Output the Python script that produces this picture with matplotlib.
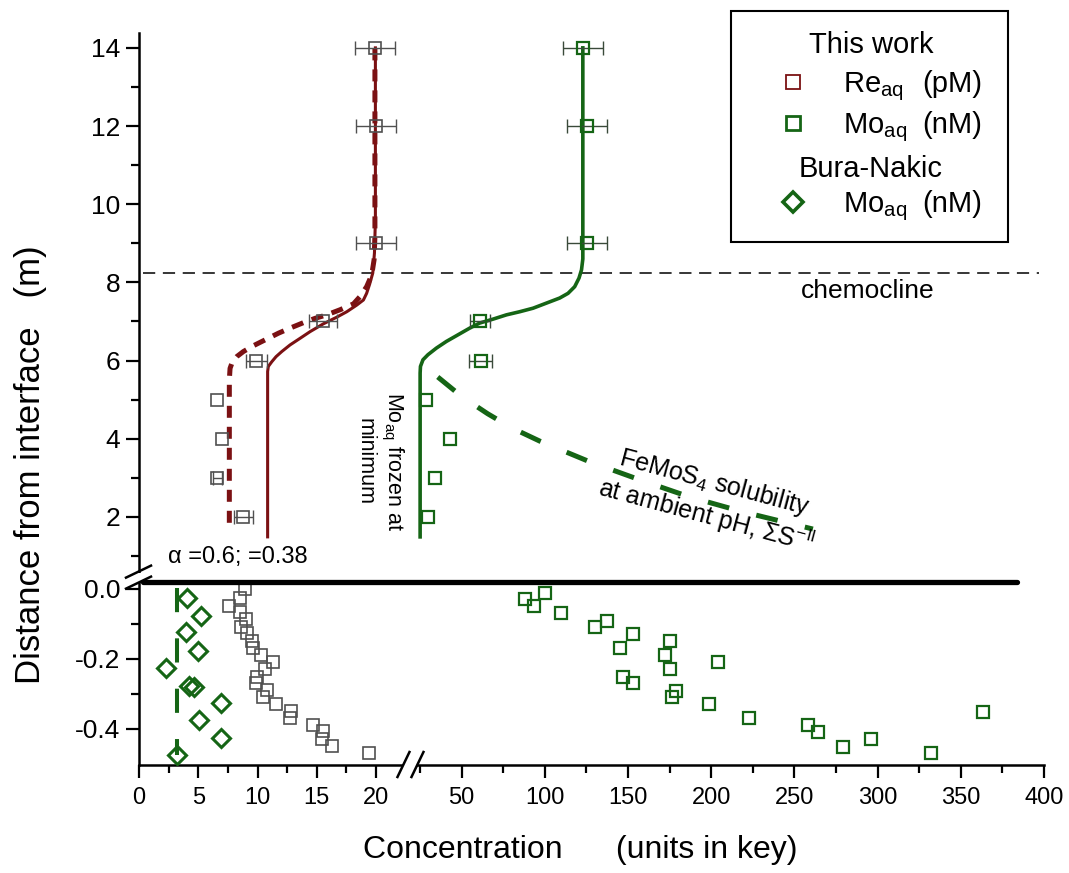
import numpy as np
import matplotlib
matplotlib.use('Agg')
import matplotlib.pyplot as plt
from matplotlib.lines import Line2D
from matplotlib.patches import Rectangle

plt.rcParams['font.family'] = ['Liberation Sans', 'DejaVu Sans']
plt.rcParams['mathtext.fontset'] = 'custom'
plt.rcParams['mathtext.rm'] = 'Liberation Sans'
plt.rcParams['mathtext.it'] = 'Liberation Sans:italic'

W, H = 1069, 873
RE_C = '#7b1113'
MO_C = '#156515'
GREY = '#505050'

# ---- water column (upper panel), depth in m ----
depth_up = [14, 12, 9, 7, 6, 5, 4, 3, 2]
re_up = [19.9, 20.0, 20.0, 15.5, 9.9, 6.6, 7.0, 6.6, 8.8]          # pM
re_up_err = [1.7, 1.7, 1.7, 1.2, 0.9, 0.0, 0.0, 0.4, 0.8]
mo_up = [122.8, 125.2, 125.2, 60.8, 61.5, 28.8, 42.8, 34.2, 29.8]  # nM
mo_up_err = [12, 12, 12, 6, 7, 0, 0, 0, 0]

# model curves
re_solid_x = [10.85, 10.85, 10.91, 11.2, 11.56, 12.04, 12.74, 13.59, 14.43, 15.55, 16.68,
              17.53, 18.37, 18.93, 19.2, 19.45, 19.72, 19.86, 19.94, 19.94]
re_solid_y = [1.49, 5.72, 5.85, 5.97, 6.10, 6.23, 6.40, 6.57, 6.74, 6.94, 7.11,
              7.25, 7.42, 7.55, 7.72, 7.95, 8.24, 8.75, 9.6, 14.0]
re_dash_x = [7.62, 7.62, 7.68, 7.88, 8.24, 8.80, 9.65, 10.77, 11.76, 12.74, 13.87, 14.85,
             15.84, 16.96, 18.09, 18.65, 19.2, 19.63, 19.83, 19.9, 19.9]
re_dash_y = [1.85, 5.5, 5.80, 5.97, 6.10, 6.23, 6.38, 6.55, 6.70, 6.83, 6.97, 7.08,
             7.17, 7.30, 7.45, 7.64, 7.89, 8.19, 8.58, 9.2, 14.0]
mo_solid_x = [25, 25, 25.2, 26.7, 29.7, 34.8, 40.8, 47.8, 54.8, 60.8, 68.8, 76.9, 84.9,
              92.9, 100.9, 108.9, 113.9, 117.9, 120.5, 122.0, 122.8, 122.8]
mo_solid_y = [1.49, 5.68, 5.85, 6.02, 6.15, 6.32, 6.49, 6.66, 6.83, 6.96, 7.06, 7.17, 7.25,
              7.34, 7.47, 7.60, 7.72, 7.89, 8.11, 8.32, 8.6, 14.0]
femos_x = [35.6, 50.0, 65.6, 80.0, 96.9, 127.0, 157.0, 187.1, 219.0, 261.1]
femos_y = [5.58, 5.08, 4.64, 4.28, 3.94, 3.41, 2.95, 2.51, 2.13, 1.69]
chemocline = 8.24

# ---- sediment (lower panel), depth in m ----
re_low_x = [8.95, 8.52, 7.59, 8.52, 9.03, 8.61, 9.14, 9.56, 9.65, 10.27, 11.28, 10.63,
            9.93, 9.87, 10.83, 10.44, 11.56, 12.80, 12.74, 14.65, 15.50, 15.42, 16.32, 19.44]
re_low_y = [0.0, -0.027, -0.049, -0.067, -0.087, -0.108, -0.127, -0.149, -0.168, -0.189,
            -0.208, -0.229, -0.251, -0.268, -0.289, -0.308, -0.329, -0.348, -0.368,
            -0.389, -0.407, -0.429, -0.448, -0.468]
mo_low_x = [87.9, 93.3, 100.3, 109.5, 130.4, 137.6, 153.0, 145.0, 175.1, 172.1, 175.1, 204.1,
            147.0, 153.0, 179.1, 176.1, 198.7, 222.8, 258.2, 264.3, 278.9, 295.8, 332.0, 363.1]
mo_low_y = [-0.029, -0.049, -0.011, -0.068, -0.108, -0.091, -0.129, -0.168, -0.149, -0.189,
            -0.229, -0.209, -0.251, -0.269, -0.291, -0.309, -0.329, -0.369, -0.389, -0.409,
            -0.451, -0.429, -0.469, -0.351]
bn_x = [4.05, 5.2, 4.0, 5.0, 2.3, 4.2, 4.6, 6.9, 5.1, 6.9, 3.2]
bn_y = [-0.026, -0.077, -0.122, -0.176, -0.227, -0.277, -0.279, -0.327, -0.374, -0.425, -0.474]
bn_line_x = [3.2, 3.2]
bn_line_y = [0.003, -0.474]

# ---- broken axes as piecewise linear scales (pixel-like units) ----
XD = [-1e4, 0, 22, 25, 400, 1e5]
XP = [-1e4 * 11.85, 0, 260.7, 281, 904.6, 904.6 + (1e5 - 400) * 1.663]
YD = [-1e4, -0.503, 0.03, 0.52, 14.38, 1e4]
YP = [(-1e4 + 0.503) * 350, 0, 186.55, 190.16, 731.8, 731.8 + (1e4 - 14.38) * 39.08]

def xf(v): return np.interp(v, XD, XP)
def xi(v): return np.interp(v, XP, XD)
def yf(v): return np.interp(v, YD, YP)
def yi(v): return np.interp(v, YP, YD)

fig = plt.figure(figsize=(W / 100, H / 100), dpi=100)
ax = fig.add_axes([139 / W, 108 / H, 905 / W, 732 / H])
ax.set_xscale('function', functions=(xf, xi))
ax.set_yscale('function', functions=(yf, yi))
ax.set_xlim(0, 400)
ax.set_ylim(-0.503, 14.38)

# curves
ax.plot(re_solid_x, re_solid_y, color=RE_C, lw=2.2, zorder=3, solid_joinstyle='round')
ax.plot(re_dash_x, re_dash_y, color=RE_C, lw=3.6, dashes=(2.4, 1.8), zorder=3)
ax.plot(mo_solid_x, mo_solid_y, color=MO_C, lw=2.6, zorder=3, solid_joinstyle='round')
ax.plot(femos_x, femos_y, color=MO_C, lw=3.6, dashes=(4.4, 5.6), zorder=3)
ax.plot(bn_line_x, bn_line_y, color=MO_C, lw=2.9, dashes=(6, 6.5), zorder=3)
ax.axhline(chemocline, xmin=0.004, xmax=0.995, color='black', lw=1.1, ls=(0, (8, 5)), zorder=2)
ax.plot([0.3, 384], [0.02, 0.02], color='black', lw=3.8, solid_capstyle='round', zorder=6)

# upper data with error bars
re_up_a = np.array(re_up); mo_up_a = np.array(mo_up); d_a = np.array(depth_up)
m = np.array(re_up_err) > 0
ax.errorbar(re_up_a[m], d_a[m], xerr=np.array(re_up_err)[m], fmt='none', ecolor=GREY,
            elinewidth=1.0, capsize=4.7, capthick=1.0, zorder=4)
m = np.array(mo_up_err) > 0
ax.errorbar(mo_up_a[m], d_a[m], xerr=np.array(mo_up_err)[m], fmt='none', ecolor='#3a4a3a',
            elinewidth=1.0, capsize=4.7, capthick=1.0, zorder=4)
ax.plot(re_up, depth_up, 's', ms=8.5, mfc='none', mec=GREY, mew=1.2, zorder=5)
ax.plot(mo_up, depth_up, 's', ms=8.5, mfc='none', mec=MO_C, mew=1.6, zorder=5)

# lower data
ax.plot(re_low_x, re_low_y, 's', ms=8.5, mfc='none', mec=GREY, mew=1.2, zorder=5)
ax.plot(mo_low_x, mo_low_y, 's', ms=9, mfc='none', mec=MO_C, mew=1.6, zorder=5)
ax.plot(bn_x, bn_y, 'D', ms=9.5, mfc='none', mec=MO_C, mew=2.2, zorder=5)

# axes styling
for s in ['top', 'right']:
    ax.spines[s].set_visible(False)
for s in ['left', 'bottom']:
    ax.spines[s].set_linewidth(1.8)
xt = [0, 5, 10, 15, 20, 50, 100, 150, 200, 250, 300, 350, 400]
ax.set_xticks(xt)
ax.set_xticklabels([str(v) for v in xt], fontsize=17)
ax.set_xticks([2.5, 7.5, 12.5, 17.5, 25, 75, 125, 175, 225, 275, 325, 375], minor=True)
yt = [-0.4, -0.2, 0.0, 2, 4, 6, 8, 10, 12, 14]
ax.set_yticks(yt)
ax.set_yticklabels(['-0.4', '-0.2', '0.0', '2', '4', '6', '8', '10', '12', '14'], fontsize=19)
ax.set_yticks([-0.3, -0.1, 1, 3, 5, 7, 9, 11, 13], minor=True)
ax.tick_params(which='major', direction='out', length=9.5, width=1.6, pad=4)
ax.tick_params(which='minor', direction='out', length=6, width=1.6)
ax.tick_params(axis='x', which='major', pad=6)

fig.canvas.draw()

def pix(px, py):
    # image pixel (top-left origin) -> figure fraction
    return px / W, 1 - py / H

def disp2pix(pt):
    return pt[0], H - pt[1]

# x axis break
bx, by = disp2pix(ax.transData.transform((23.5, -0.503)))
fig.add_artist(Rectangle(pix(bx - 7, by + 4), 14 / W, 8 / H, transform=fig.transFigure,
                         fc='white', ec='none', zorder=10))
for dx in (-6.5, 7.5):
    x0, y0 = pix(bx + dx - 6, by + 12)
    x1, y1 = pix(bx + dx + 6, by - 13)
    fig.add_artist(Line2D([x0, x1], [y0, y1], color='black', lw=1.8, transform=fig.transFigure, zorder=11))

# y axis break
lx, ly = disp2pix(ax.transData.transform((0, 0.27)))
fig.add_artist(Rectangle(pix(lx - 3, ly + 5), 6 / W, 9 / H, transform=fig.transFigure,
                         fc='white', ec='none', zorder=10))
for dy in (-5, 6):
    x0, y0 = pix(lx - 13, ly + dy + 6)
    x1, y1 = pix(lx + 12, ly + dy - 6)
    fig.add_artist(Line2D([x0, x1], [y0, y1], color='black', lw=1.8, transform=fig.transFigure, zorder=11))

# labels
fig.text(*pix(31, 465), 'Distance from interface   (m)', rotation=90, ha='center', va='center', fontsize=25)
fig.text(*pix(580, 850), 'Concentration      (units in key)', ha='center', va='center', fontsize=23)

# annotations
fig.text(*pix(868, 298), 'chemocline', ha='center', va='baseline', fontsize=19)
fig.text(*pix(168, 563), 'α =0.6; =0.38', ha='left', va='baseline', fontsize=17)
fig.text(*pix(380, 461), 'Mo$_{\\rm aq}$ frozen at\nminimum', rotation=-90, ha='center', va='center',
         multialignment='center', fontsize=15.5, rotation_mode='anchor')
fig.text(*pix(710, 500), 'FeMoS$_4$ solubility\nat ambient pH, ΣS$^{-\\rm II}$', rotation=-15,
         ha='center', va='center', multialignment='center', fontsize=18, rotation_mode='anchor')

# key
fig.add_artist(Rectangle(pix(731, 242), (1008 - 731) / W, (242 - 11) / H, transform=fig.transFigure,
                         fill=False, ec='black', lw=1.5))
fig.text(*pix(871, 53), 'This work', ha='center', va='baseline', fontsize=21)
fig.text(*pix(871, 177), 'Bura-Nakic', ha='center', va='baseline', fontsize=21)
rows = [(92, 'Re$_{\\rm aq}$', '(pM)', 's', RE_C, 1.3, 10),
        (133, 'Mo$_{\\rm aq}$', '(nM)', 's', MO_C, 2.0, 10),
        (212, 'Mo$_{\\rm aq}$', '(nM)', 'D', MO_C, 2.6, 10.5)]
for yb, name, unit, mk, ec, mw, ms in rows:
    fig.text(*pix(843, yb), name, ha='left', va='baseline', fontsize=21)
    fig.text(*pix(922, yb), unit, ha='left', va='baseline', fontsize=21)
    mx, my = pix(793, yb - 10)
    fig.add_artist(Line2D([mx], [my], marker=mk, ms=ms, mfc='none', mec=ec, mew=mw,
                          transform=fig.transFigure))

fig.savefig('out.png', dpi=100)
